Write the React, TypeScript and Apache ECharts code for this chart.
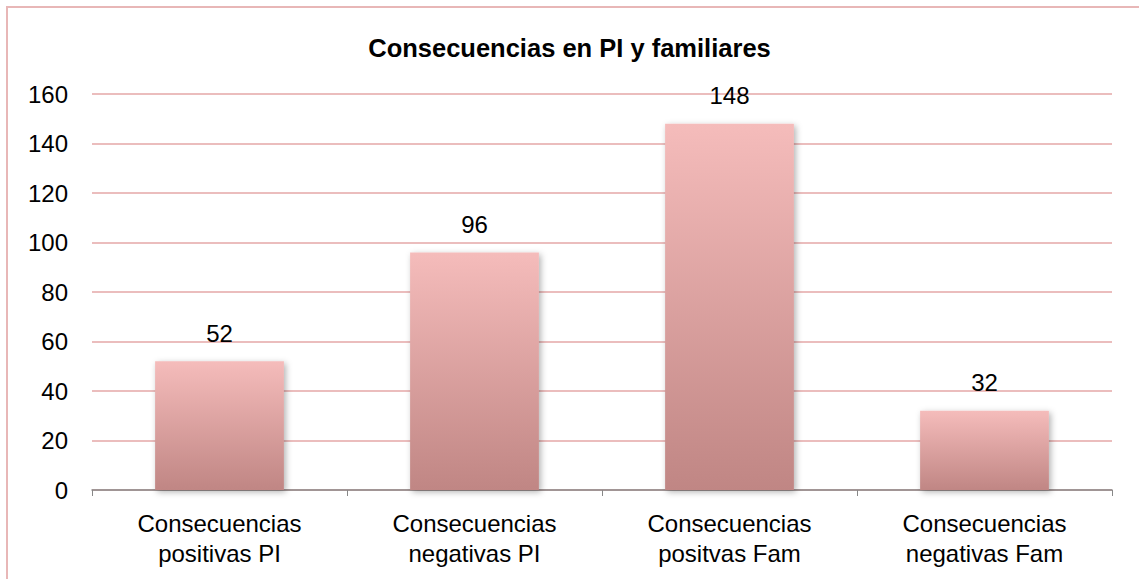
import React, { useEffect, useRef } from "react";
import * as echarts from "echarts";

const categories = [
  "Consecuencias\npositivas PI",
  "Consecuencias\nnegativas PI",
  "Consecuencias\npositvas Fam",
  "Consecuencias\nnegativas Fam",
];
const values = [52, 96, 148, 32];
const titleText = "Consecuencias en PI y familiares";

export default function App() {
  const ref = useRef<HTMLDivElement>(null);
  useEffect(() => {
    if (!ref.current) return;
    document.body.style.overflow = "hidden";
    const chart = echarts.init(ref.current, null, { renderer: "svg" });
    chart.setOption({
      animation: false,
      backgroundColor: "#ffffff",
      title: {
        text: titleText,
        left: "center",
        top: 30,
        textStyle: {
          fontFamily: "Liberation Sans, Arial, sans-serif",
          fontSize: 25.5,
          fontWeight: "bold",
          color: "#000",
        },
      },
      graphic: [
        {
          type: "rect",
          shape: { x: 7, y: 7, width: 1160, height: 620 },
          style: { fill: "none", stroke: "#E8B7B7", lineWidth: 2 },
          silent: true,
        },
      ],
      grid: { left: 92, right: 27, top: 94, bottom: 89 },
      xAxis: {
        type: "category",
        data: categories,
        axisLine: { lineStyle: { color: "#888888", width: 1.5 } },
        axisTick: { show: true, length: 6, lineStyle: { color: "#888888" } },
        axisLabel: {
          margin: 18,
          fontSize: 24,
          lineHeight: 30,
          color: "#000",
          fontFamily: "Liberation Sans, Arial, sans-serif",
        },
      },
      yAxis: {
        type: "value",
        min: 0,
        max: 160,
        interval: 20,
        axisLine: { show: false },
        axisTick: { show: false },
        splitLine: { lineStyle: { color: "#EBBDBD", width: 2 } },
        axisLabel: {
          margin: 24,
          fontSize: 24,
          color: "#000",
          fontFamily: "Liberation Sans, Arial, sans-serif",
        },
      },
      series: [
        {
          type: "bar",
          data: values,
          barWidth: "50.5%",
          itemStyle: {
            color: new echarts.graphic.LinearGradient(0, 0, 0, 1, [
              { offset: 0, color: "#F5BCBB" },
              { offset: 1, color: "#C08684" },
            ]),
            shadowBlur: 6,
            shadowColor: "rgba(0,0,0,0.3)",
            shadowOffsetX: 2,
            shadowOffsetY: 2,
          },
          label: {
            show: true,
            position: "top",
            distance: 16,
            fontSize: 24,
            color: "#000",
            fontFamily: "Liberation Sans, Arial, sans-serif",
          },
        },
      ],
    });
    return () => chart.dispose();
  }, []);
  return (
    <div
      ref={ref}
      style={{ position: "fixed", left: 0, top: 0, width: 1139, height: 579 }}
    />
  );
}
